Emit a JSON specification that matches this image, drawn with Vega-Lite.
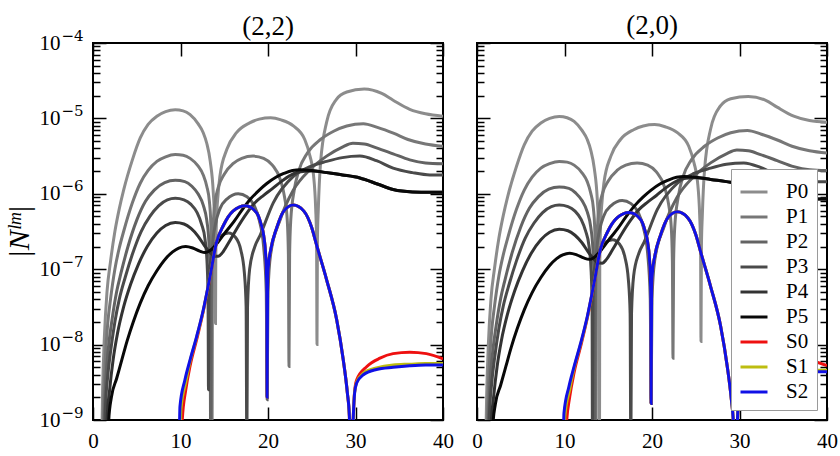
{
  "$schema": "https://vega.github.io/schema/vega-lite/v6.json",
  "background": "white",
  "padding": {"left": 3, "top": 11, "right": 13, "bottom": 3},
  "bounds": "flush",
  "spacing": 34,
  "config": {
    "view": {"stroke": "black", "strokeWidth": 2},
    "font": "Liberation Serif",
    "title": {"font": "Liberation Serif", "fontSize": 27, "fontWeight": "normal", "color": "black", "anchor": "middle"},
    "axis": {"domain": false, "offset": -13, "tickSize": 13, "tickColor": "black", "tickWidth": 1.5, "grid": false, "labelFont": "Liberation Serif", "labelFontSize": 21, "labelColor": "black", "labelOverlap": false, "labelFlush": false, "titleFont": "Liberation Serif", "titleColor": "black", "titleFontWeight": "normal"}
  },
  "datasets": {
    "n22": [
      {"s":"P0","x":0.9,"y":1e-10},{"s":"P0","x":1.1,"y":2.51e-9},{"s":"P0","x":1.3,"y":1.26e-8},{"s":"P0","x":1.6,"y":5.01e-8},{"s":"P0","x":2.0,"y":1.26e-7},{"s":"P0","x":2.5,"y":3.16e-7},{"s":"P0","x":3.0,"y":6.31e-7},{"s":"P0","x":3.5,"y":1.12e-6},{"s":"P0","x":4.5,"y":2.82e-6},{"s":"P0","x":5.4,"y":5.50e-6},{"s":"P0","x":6.3,"y":8.32e-6},{"s":"P0","x":7.3,"y":1.07e-5},{"s":"P0","x":8.3,"y":1.23e-5},{"s":"P0","x":9.4,"y":1.30e-5},{"s":"P0","x":10.3,"y":1.26e-5},{"s":"P0","x":11.1,"y":1.12e-5},{"s":"P0","x":12.0,"y":8.51e-6},{"s":"P0","x":12.6,"y":6.46e-6},{"s":"P0","x":13.0,"y":4.68e-6},{"s":"P0","x":13.4,"y":2.69e-6},{"s":"P0","x":13.75,"y":1.02e-6},{"s":"P0","x":13.9,"y":3.98e-7},{"s":"P0","x":13.97,"y":1.26e-7},{"s":"P0","x":14.0,"y":1.91e-8},{"s":"P0","x":14.03,"y":1.26e-7},{"s":"P0","x":14.1,"y":3.98e-7},{"s":"P0","x":14.3,"y":1.00e-6},{"s":"P0","x":14.5,"y":1.70e-6},{"s":"P0","x":15.3,"y":3.89e-6},{"s":"P0","x":16.4,"y":6.46e-6},{"s":"P0","x":17.9,"y":8.71e-6},{"s":"P0","x":19.0,"y":9.77e-6},{"s":"P0","x":20.3,"y":1.02e-5},{"s":"P0","x":21.5,"y":9.55e-6},{"s":"P0","x":22.9,"y":7.94e-6},{"s":"P0","x":24.2,"y":5.25e-6},{"s":"P0","x":24.8,"y":3.16e-6},{"s":"P0","x":25.2,"y":1.78e-6},{"s":"P0","x":25.45,"y":6.31e-7},{"s":"P0","x":25.55,"y":2.51e-7},{"s":"P0","x":25.6,"y":1.00e-8},{"s":"P0","x":25.65,"y":2.51e-7},{"s":"P0","x":25.75,"y":6.31e-7},{"s":"P0","x":26.0,"y":2.51e-6},{"s":"P0","x":26.7,"y":8.91e-6},{"s":"P0","x":27.8,"y":1.78e-5},{"s":"P0","x":29.0,"y":2.24e-5},{"s":"P0","x":31.0,"y":2.45e-5},{"s":"P0","x":33.0,"y":2.14e-5},{"s":"P0","x":34.3,"y":1.74e-5},{"s":"P0","x":36.2,"y":1.32e-5},{"s":"P0","x":38.0,"y":1.15e-5},{"s":"P0","x":40.0,"y":1.07e-5},
      {"s":"P1","x":1.0,"y":1e-10},{"s":"P1","x":1.2,"y":1.58e-9},{"s":"P1","x":1.4,"y":6.31e-9},{"s":"P1","x":1.7,"y":2.00e-8},{"s":"P1","x":2.0,"y":3.98e-8},{"s":"P1","x":2.5,"y":1.00e-7},{"s":"P1","x":3.0,"y":1.91e-7},{"s":"P1","x":3.5,"y":3.16e-7},{"s":"P1","x":4.5,"y":7.59e-7},{"s":"P1","x":5.4,"y":1.38e-6},{"s":"P1","x":6.3,"y":2.04e-6},{"s":"P1","x":7.3,"y":2.69e-6},{"s":"P1","x":8.3,"y":3.09e-6},{"s":"P1","x":9.4,"y":3.31e-6},{"s":"P1","x":10.3,"y":3.24e-6},{"s":"P1","x":11.1,"y":2.95e-6},{"s":"P1","x":12.0,"y":2.34e-6},{"s":"P1","x":12.6,"y":1.78e-6},{"s":"P1","x":13.0,"y":1.26e-6},{"s":"P1","x":13.3,"y":7.94e-7},{"s":"P1","x":13.45,"y":4.47e-7},{"s":"P1","x":13.55,"y":1.58e-7},{"s":"P1","x":13.6,"y":3.16e-10},{"s":"P1","x":13.65,"y":1.58e-7},{"s":"P1","x":13.75,"y":3.98e-7},{"s":"P1","x":13.9,"y":7.08e-7},{"s":"P1","x":14.3,"y":1.20e-6},{"s":"P1","x":15.0,"y":1.82e-6},{"s":"P1","x":16.0,"y":2.51e-6},{"s":"P1","x":17.0,"y":2.95e-6},{"s":"P1","x":18.3,"y":3.16e-6},{"s":"P1","x":19.5,"y":2.95e-6},{"s":"P1","x":20.5,"y":2.40e-6},{"s":"P1","x":21.4,"y":1.55e-6},{"s":"P1","x":21.9,"y":8.91e-7},{"s":"P1","x":22.2,"y":4.47e-7},{"s":"P1","x":22.33,"y":1.58e-7},{"s":"P1","x":22.4,"y":5.13e-9},{"s":"P1","x":22.47,"y":1.58e-7},{"s":"P1","x":22.6,"y":4.47e-7},{"s":"P1","x":23.0,"y":1.12e-6},{"s":"P1","x":23.5,"y":2.00e-6},{"s":"P1","x":24.5,"y":3.47e-6},{"s":"P1","x":26.0,"y":5.25e-6},{"s":"P1","x":27.5,"y":6.76e-6},{"s":"P1","x":29.0,"y":7.94e-6},{"s":"P1","x":30.9,"y":8.51e-6},{"s":"P1","x":32.5,"y":7.59e-6},{"s":"P1","x":34.4,"y":6.31e-6},{"s":"P1","x":36.0,"y":5.25e-6},{"s":"P1","x":38.0,"y":4.57e-6},{"s":"P1","x":40.0,"y":4.27e-6},
      {"s":"P2","x":1.1,"y":1e-10},{"s":"P2","x":1.3,"y":1.26e-9},{"s":"P2","x":1.5,"y":3.98e-9},{"s":"P2","x":1.8,"y":1.00e-8},{"s":"P2","x":2.2,"y":2.24e-8},{"s":"P2","x":2.7,"y":5.01e-8},{"s":"P2","x":3.2,"y":8.91e-8},{"s":"P2","x":4.0,"y":2.00e-7},{"s":"P2","x":5.0,"y":4.47e-7},{"s":"P2","x":6.0,"y":7.94e-7},{"s":"P2","x":7.0,"y":1.12e-6},{"s":"P2","x":8.2,"y":1.41e-6},{"s":"P2","x":9.4,"y":1.51e-6},{"s":"P2","x":10.5,"y":1.45e-6},{"s":"P2","x":11.3,"y":1.26e-6},{"s":"P2","x":12.0,"y":1.00e-6},{"s":"P2","x":12.6,"y":7.08e-7},{"s":"P2","x":13.0,"y":4.47e-7},{"s":"P2","x":13.25,"y":2.24e-7},{"s":"P2","x":13.38,"y":7.94e-8},{"s":"P2","x":13.45,"y":3.16e-10},{"s":"P2","x":13.52,"y":7.94e-8},{"s":"P2","x":13.65,"y":2.00e-7},{"s":"P2","x":14.0,"y":3.98e-7},{"s":"P2","x":14.5,"y":6.31e-7},{"s":"P2","x":15.3,"y":8.51e-7},{"s":"P2","x":16.6,"y":1.00e-6},{"s":"P2","x":17.6,"y":9.12e-7},{"s":"P2","x":18.4,"y":7.08e-7},{"s":"P2","x":19.0,"y":4.47e-7},{"s":"P2","x":19.5,"y":2.00e-7},{"s":"P2","x":19.8,"y":5.01e-8},{"s":"P2","x":19.9,"y":1.86e-9},{"s":"P2","x":20.0,"y":5.01e-8},{"s":"P2","x":20.3,"y":1.58e-7},{"s":"P2","x":21.4,"y":4.57e-7},{"s":"P2","x":22.9,"y":1.12e-6},{"s":"P2","x":24.8,"y":2.09e-6},{"s":"P2","x":26.7,"y":3.16e-6},{"s":"P2","x":28.5,"y":4.17e-6},{"s":"P2","x":29.7,"y":4.68e-6},{"s":"P2","x":31.0,"y":4.57e-6},{"s":"P2","x":32.4,"y":4.07e-6},{"s":"P2","x":34.3,"y":3.39e-6},{"s":"P2","x":36.2,"y":2.82e-6},{"s":"P2","x":38.0,"y":2.57e-6},{"s":"P2","x":40.0,"y":2.51e-6},
      {"s":"P3","x":1.2,"y":1e-10},{"s":"P3","x":1.4,"y":1.26e-9},{"s":"P3","x":1.7,"y":3.98e-9},{"s":"P3","x":2.0,"y":7.94e-9},{"s":"P3","x":2.5,"y":2.00e-8},{"s":"P3","x":3.0,"y":3.98e-8},{"s":"P3","x":3.7,"y":7.94e-8},{"s":"P3","x":4.5,"y":1.58e-7},{"s":"P3","x":5.5,"y":3.16e-7},{"s":"P3","x":6.5,"y":5.01e-7},{"s":"P3","x":7.5,"y":6.92e-7},{"s":"P3","x":8.5,"y":8.32e-7},{"s":"P3","x":9.4,"y":8.71e-7},{"s":"P3","x":10.4,"y":8.32e-7},{"s":"P3","x":11.2,"y":7.24e-7},{"s":"P3","x":11.9,"y":5.62e-7},{"s":"P3","x":12.4,"y":3.98e-7},{"s":"P3","x":12.8,"y":2.51e-7},{"s":"P3","x":13.05,"y":1.12e-7},{"s":"P3","x":13.15,"y":3.98e-8},{"s":"P3","x":13.2,"y":2.51e-9},{"s":"P3","x":13.25,"y":3.98e-8},{"s":"P3","x":13.35,"y":1.00e-7},{"s":"P3","x":13.6,"y":1.58e-7},{"s":"P3","x":14.0,"y":2.19e-7},{"s":"P3","x":14.6,"y":2.75e-7},{"s":"P3","x":15.5,"y":3.02e-7},{"s":"P3","x":16.3,"y":2.63e-7},{"s":"P3","x":16.9,"y":1.78e-7},{"s":"P3","x":17.3,"y":8.91e-8},{"s":"P3","x":17.5,"y":3.16e-8},{"s":"P3","x":17.58,"y":3.16e-10},{"s":"P3","x":17.66,"y":3.16e-8},{"s":"P3","x":17.9,"y":1.00e-7},{"s":"P3","x":18.5,"y":2.00e-7},{"s":"P3","x":19.1,"y":2.82e-7},{"s":"P3","x":20.6,"y":7.59e-7},{"s":"P3","x":22.9,"y":1.70e-6},{"s":"P3","x":24.8,"y":2.29e-6},{"s":"P3","x":26.7,"y":2.69e-6},{"s":"P3","x":28.5,"y":3.02e-6},{"s":"P3","x":30.5,"y":3.16e-6},{"s":"P3","x":32.4,"y":2.75e-6},{"s":"P3","x":34.3,"y":2.19e-6},{"s":"P3","x":36.5,"y":1.91e-6},{"s":"P3","x":38.5,"y":1.78e-6},{"s":"P3","x":40.0,"y":1.78e-6},
      {"s":"P4","x":1.35,"y":1e-10},{"s":"P4","x":1.6,"y":1.00e-9},{"s":"P4","x":1.9,"y":2.51e-9},{"s":"P4","x":2.3,"y":6.31e-9},{"s":"P4","x":2.8,"y":1.41e-8},{"s":"P4","x":3.5,"y":3.16e-8},{"s":"P4","x":4.3,"y":6.31e-8},{"s":"P4","x":5.2,"y":1.17e-7},{"s":"P4","x":6.2,"y":2.00e-7},{"s":"P4","x":7.3,"y":3.02e-7},{"s":"P4","x":8.3,"y":3.80e-7},{"s":"P4","x":9.4,"y":4.17e-7},{"s":"P4","x":10.4,"y":3.98e-7},{"s":"P4","x":11.2,"y":3.47e-7},{"s":"P4","x":12.0,"y":2.75e-7},{"s":"P4","x":12.7,"y":2.09e-7},{"s":"P4","x":13.3,"y":1.70e-7},{"s":"P4","x":13.8,"y":1.51e-7},{"s":"P4","x":14.3,"y":1.48e-7},{"s":"P4","x":14.8,"y":1.66e-7},{"s":"P4","x":15.5,"y":2.24e-7},{"s":"P4","x":16.5,"y":3.55e-7},{"s":"P4","x":17.5,"y":5.37e-7},{"s":"P4","x":18.5,"y":7.59e-7},{"s":"P4","x":19.5,"y":9.55e-7},{"s":"P4","x":20.5,"y":1.17e-6},{"s":"P4","x":21.5,"y":1.45e-6},{"s":"P4","x":22.5,"y":1.74e-6},{"s":"P4","x":23.5,"y":1.95e-6},{"s":"P4","x":25.0,"y":2.00e-6},{"s":"P4","x":26.7,"y":1.91e-6},{"s":"P4","x":28.5,"y":1.78e-6},{"s":"P4","x":30.5,"y":1.62e-6},{"s":"P4","x":32.5,"y":1.35e-6},{"s":"P4","x":34.3,"y":1.14e-6},{"s":"P4","x":36.5,"y":1.06e-6},{"s":"P4","x":38.5,"y":1.05e-6},{"s":"P4","x":40.0,"y":1.05e-6},
      {"s":"P5","x":1.6,"y":1e-10},{"s":"P5","x":1.8,"y":1.00e-9},{"s":"P5","x":2.1,"y":2.00e-9},{"s":"P5","x":2.7,"y":3.55e-9},{"s":"P5","x":3.3,"y":6.31e-9},{"s":"P5","x":3.9,"y":1.12e-8},{"s":"P5","x":4.6,"y":2.00e-8},{"s":"P5","x":5.4,"y":3.55e-8},{"s":"P5","x":6.3,"y":6.03e-8},{"s":"P5","x":7.3,"y":9.55e-8},{"s":"P5","x":8.3,"y":1.38e-7},{"s":"P5","x":9.1,"y":1.70e-7},{"s":"P5","x":9.8,"y":1.91e-7},{"s":"P5","x":10.6,"y":2.00e-7},{"s":"P5","x":11.4,"y":1.91e-7},{"s":"P5","x":12.2,"y":1.74e-7},{"s":"P5","x":12.8,"y":1.66e-7},{"s":"P5","x":13.3,"y":1.74e-7},{"s":"P5","x":13.8,"y":1.95e-7},{"s":"P5","x":14.3,"y":2.29e-7},{"s":"P5","x":15.2,"y":3.16e-7},{"s":"P5","x":16.1,"y":4.27e-7},{"s":"P5","x":17.0,"y":6.03e-7},{"s":"P5","x":18.0,"y":8.51e-7},{"s":"P5","x":19.0,"y":1.12e-6},{"s":"P5","x":19.9,"y":1.38e-6},{"s":"P5","x":20.9,"y":1.66e-6},{"s":"P5","x":21.8,"y":1.86e-6},{"s":"P5","x":22.8,"y":2.04e-6},{"s":"P5","x":23.7,"y":2.09e-6},{"s":"P5","x":25.0,"y":2.04e-6},{"s":"P5","x":26.7,"y":1.91e-6},{"s":"P5","x":28.5,"y":1.78e-6},{"s":"P5","x":30.5,"y":1.62e-6},{"s":"P5","x":32.5,"y":1.35e-6},{"s":"P5","x":34.3,"y":1.14e-6},{"s":"P5","x":36.5,"y":1.06e-6},{"s":"P5","x":38.5,"y":1.05e-6},{"s":"P5","x":40.0,"y":1.05e-6},
      {"s":"S0","x":10.05,"y":1e-10},{"s":"S0","x":10.2,"y":1.00e-9},{"s":"S0","x":10.6,"y":2.51e-9},{"s":"S0","x":11.1,"y":5.25e-9},{"s":"S0","x":11.85,"y":1.17e-8},{"s":"S0","x":12.6,"y":2.75e-8},{"s":"S0","x":13.4,"y":8.13e-8},{"s":"S0","x":14.1,"y":2.24e-7},{"s":"S0","x":14.9,"y":3.80e-7},{"s":"S0","x":16.0,"y":5.89e-7},{"s":"S0","x":17.4,"y":6.92e-7},{"s":"S0","x":18.7,"y":5.62e-7},{"s":"S0","x":19.2,"y":3.98e-7},{"s":"S0","x":19.5,"y":2.82e-7},{"s":"S0","x":19.75,"y":1.41e-7},{"s":"S0","x":19.85,"y":6.31e-8},{"s":"S0","x":19.9,"y":2.00e-9},{"s":"S0","x":19.95,"y":6.31e-8},{"s":"S0","x":20.05,"y":1.12e-7},{"s":"S0","x":20.3,"y":1.78e-7},{"s":"S0","x":21.0,"y":3.55e-7},{"s":"S0","x":21.8,"y":5.89e-7},{"s":"S0","x":22.9,"y":7.08e-7},{"s":"S0","x":24.1,"y":5.89e-7},{"s":"S0","x":25.0,"y":3.55e-7},{"s":"S0","x":25.6,"y":2.00e-7},{"s":"S0","x":26.7,"y":7.24e-8},{"s":"S0","x":27.85,"y":2.14e-8},{"s":"S0","x":28.6,"y":6.31e-9},{"s":"S0","x":29.07,"y":2.29e-9},{"s":"S0","x":29.3,"y":1.12e-9},{"s":"S0","x":29.5,"y":1e-10},{"s":"S0","x":29.75,"y":1.12e-9},{"s":"S0","x":29.9,"y":2.40e-9},{"s":"S0","x":30.13,"y":3.39e-9},{"s":"S0","x":31.3,"y":5.13e-9},{"s":"S0","x":32.8,"y":6.61e-9},{"s":"S0","x":34.3,"y":7.59e-9},{"s":"S0","x":36.2,"y":7.94e-9},{"s":"S0","x":38.1,"y":7.59e-9},{"s":"S0","x":40.0,"y":6.46e-9},
      {"s":"S1","x":9.9,"y":1e-10},{"s":"S1","x":10.05,"y":1.41e-9},{"s":"S1","x":10.6,"y":3.16e-9},{"s":"S1","x":11.1,"y":6.03e-9},{"s":"S1","x":11.85,"y":1.26e-8},{"s":"S1","x":12.6,"y":2.82e-8},{"s":"S1","x":13.4,"y":8.32e-8},{"s":"S1","x":14.1,"y":2.24e-7},{"s":"S1","x":14.9,"y":3.80e-7},{"s":"S1","x":16.0,"y":5.89e-7},{"s":"S1","x":17.4,"y":6.92e-7},{"s":"S1","x":18.7,"y":5.62e-7},{"s":"S1","x":19.2,"y":3.98e-7},{"s":"S1","x":19.5,"y":2.82e-7},{"s":"S1","x":19.75,"y":1.41e-7},{"s":"S1","x":19.85,"y":6.31e-8},{"s":"S1","x":19.9,"y":2.00e-9},{"s":"S1","x":19.95,"y":6.31e-8},{"s":"S1","x":20.05,"y":1.12e-7},{"s":"S1","x":20.3,"y":1.78e-7},{"s":"S1","x":21.0,"y":3.55e-7},{"s":"S1","x":21.8,"y":5.89e-7},{"s":"S1","x":22.9,"y":7.08e-7},{"s":"S1","x":24.1,"y":5.89e-7},{"s":"S1","x":25.0,"y":3.55e-7},{"s":"S1","x":25.6,"y":2.00e-7},{"s":"S1","x":26.7,"y":7.24e-8},{"s":"S1","x":27.85,"y":2.14e-8},{"s":"S1","x":28.6,"y":6.31e-9},{"s":"S1","x":29.07,"y":2.29e-9},{"s":"S1","x":29.3,"y":1.12e-9},{"s":"S1","x":29.5,"y":1e-10},{"s":"S1","x":29.75,"y":1.12e-9},{"s":"S1","x":29.9,"y":2.34e-9},{"s":"S1","x":30.13,"y":3.16e-9},{"s":"S1","x":30.9,"y":4.17e-9},{"s":"S1","x":32.4,"y":4.90e-9},{"s":"S1","x":34.3,"y":5.37e-9},{"s":"S1","x":36.2,"y":5.50e-9},{"s":"S1","x":38.0,"y":5.62e-9},{"s":"S1","x":40.0,"y":5.62e-9},
      {"s":"S2","x":9.8,"y":1e-10},{"s":"S2","x":9.94,"y":1.51e-9},{"s":"S2","x":10.5,"y":3.39e-9},{"s":"S2","x":11.1,"y":6.31e-9},{"s":"S2","x":11.85,"y":1.29e-8},{"s":"S2","x":12.6,"y":2.88e-8},{"s":"S2","x":13.4,"y":8.32e-8},{"s":"S2","x":14.1,"y":2.24e-7},{"s":"S2","x":14.9,"y":3.80e-7},{"s":"S2","x":16.0,"y":5.89e-7},{"s":"S2","x":17.4,"y":6.92e-7},{"s":"S2","x":18.7,"y":5.62e-7},{"s":"S2","x":19.2,"y":3.98e-7},{"s":"S2","x":19.5,"y":2.82e-7},{"s":"S2","x":19.75,"y":1.41e-7},{"s":"S2","x":19.85,"y":6.31e-8},{"s":"S2","x":19.9,"y":2.00e-9},{"s":"S2","x":19.95,"y":6.31e-8},{"s":"S2","x":20.05,"y":1.12e-7},{"s":"S2","x":20.3,"y":1.78e-7},{"s":"S2","x":21.0,"y":3.55e-7},{"s":"S2","x":21.8,"y":5.89e-7},{"s":"S2","x":22.9,"y":7.08e-7},{"s":"S2","x":24.1,"y":5.89e-7},{"s":"S2","x":25.0,"y":3.55e-7},{"s":"S2","x":25.6,"y":2.00e-7},{"s":"S2","x":26.7,"y":7.24e-8},{"s":"S2","x":27.85,"y":2.14e-8},{"s":"S2","x":28.6,"y":6.31e-9},{"s":"S2","x":29.07,"y":2.29e-9},{"s":"S2","x":29.3,"y":1.12e-9},{"s":"S2","x":29.5,"y":1e-10},{"s":"S2","x":29.75,"y":1.12e-9},{"s":"S2","x":29.9,"y":2.29e-9},{"s":"S2","x":30.13,"y":3.09e-9},{"s":"S2","x":30.9,"y":3.98e-9},{"s":"S2","x":32.4,"y":4.68e-9},{"s":"S2","x":34.3,"y":5.01e-9},{"s":"S2","x":36.2,"y":5.25e-9},{"s":"S2","x":38.0,"y":5.37e-9},{"s":"S2","x":40.0,"y":5.37e-9}
    ],
    "n20": [
      {"s":"P0","x":0.9,"y":1e-10},{"s":"P0","x":1.1,"y":2.04e-9},{"s":"P0","x":1.3,"y":1.02e-8},{"s":"P0","x":1.6,"y":4.07e-8},{"s":"P0","x":2.0,"y":1.02e-7},{"s":"P0","x":2.5,"y":2.57e-7},{"s":"P0","x":3.0,"y":5.13e-7},{"s":"P0","x":3.5,"y":9.11e-7},{"s":"P0","x":4.5,"y":2.29e-6},{"s":"P0","x":5.4,"y":4.47e-6},{"s":"P0","x":6.3,"y":6.76e-6},{"s":"P0","x":7.3,"y":8.70e-6},{"s":"P0","x":8.3,"y":1.00e-5},{"s":"P0","x":9.4,"y":1.06e-5},{"s":"P0","x":10.3,"y":1.02e-5},{"s":"P0","x":11.1,"y":9.11e-6},{"s":"P0","x":12.0,"y":6.92e-6},{"s":"P0","x":12.6,"y":5.25e-6},{"s":"P0","x":13.0,"y":3.80e-6},{"s":"P0","x":13.4,"y":2.19e-6},{"s":"P0","x":13.75,"y":8.29e-7},{"s":"P0","x":13.9,"y":3.24e-7},{"s":"P0","x":13.97,"y":1.02e-7},{"s":"P0","x":14.0,"y":3.16e-10},{"s":"P0","x":14.03,"y":1.02e-7},{"s":"P0","x":14.1,"y":3.24e-7},{"s":"P0","x":14.3,"y":8.13e-7},{"s":"P0","x":14.5,"y":1.38e-6},{"s":"P0","x":15.3,"y":3.16e-6},{"s":"P0","x":16.4,"y":5.25e-6},{"s":"P0","x":17.9,"y":7.08e-6},{"s":"P0","x":19.0,"y":7.94e-6},{"s":"P0","x":20.3,"y":8.29e-6},{"s":"P0","x":21.5,"y":7.76e-6},{"s":"P0","x":22.9,"y":6.46e-6},{"s":"P0","x":24.2,"y":4.27e-6},{"s":"P0","x":24.8,"y":2.57e-6},{"s":"P0","x":25.2,"y":1.45e-6},{"s":"P0","x":25.45,"y":5.13e-7},{"s":"P0","x":25.55,"y":2.04e-7},{"s":"P0","x":25.6,"y":1.10e-8},{"s":"P0","x":25.65,"y":2.04e-7},{"s":"P0","x":25.75,"y":5.13e-7},{"s":"P0","x":26.0,"y":2.04e-6},{"s":"P0","x":26.7,"y":7.24e-6},{"s":"P0","x":27.8,"y":1.45e-5},{"s":"P0","x":29.0,"y":1.82e-5},{"s":"P0","x":31.0,"y":1.95e-5},{"s":"P0","x":33.0,"y":1.74e-5},{"s":"P0","x":34.3,"y":1.41e-5},{"s":"P0","x":36.2,"y":1.07e-5},{"s":"P0","x":38.0,"y":9.35e-6},{"s":"P0","x":40.0,"y":8.91e-6},
      {"s":"P1","x":1.0,"y":1e-10},{"s":"P1","x":1.2,"y":1.28e-9},{"s":"P1","x":1.4,"y":5.13e-9},{"s":"P1","x":1.7,"y":1.63e-8},{"s":"P1","x":2.0,"y":3.24e-8},{"s":"P1","x":2.5,"y":8.13e-8},{"s":"P1","x":3.0,"y":1.55e-7},{"s":"P1","x":3.5,"y":2.57e-7},{"s":"P1","x":4.5,"y":6.17e-7},{"s":"P1","x":5.4,"y":1.12e-6},{"s":"P1","x":6.3,"y":1.66e-6},{"s":"P1","x":7.3,"y":2.19e-6},{"s":"P1","x":8.3,"y":2.51e-6},{"s":"P1","x":9.4,"y":2.69e-6},{"s":"P1","x":10.3,"y":2.63e-6},{"s":"P1","x":11.1,"y":2.40e-6},{"s":"P1","x":12.0,"y":1.90e-6},{"s":"P1","x":12.6,"y":1.45e-6},{"s":"P1","x":13.0,"y":1.02e-6},{"s":"P1","x":13.3,"y":6.46e-7},{"s":"P1","x":13.45,"y":3.63e-7},{"s":"P1","x":13.55,"y":1.28e-7},{"s":"P1","x":13.6,"y":3.16e-10},{"s":"P1","x":13.65,"y":1.28e-7},{"s":"P1","x":13.75,"y":3.24e-7},{"s":"P1","x":13.9,"y":5.76e-7},{"s":"P1","x":14.3,"y":9.76e-7},{"s":"P1","x":15.0,"y":1.48e-6},{"s":"P1","x":16.0,"y":2.04e-6},{"s":"P1","x":17.0,"y":2.40e-6},{"s":"P1","x":18.3,"y":2.57e-6},{"s":"P1","x":19.5,"y":2.40e-6},{"s":"P1","x":20.5,"y":1.95e-6},{"s":"P1","x":21.4,"y":1.26e-6},{"s":"P1","x":21.9,"y":7.24e-7},{"s":"P1","x":22.2,"y":3.63e-7},{"s":"P1","x":22.33,"y":1.28e-7},{"s":"P1","x":22.4,"y":6.61e-9},{"s":"P1","x":22.47,"y":1.28e-7},{"s":"P1","x":22.6,"y":3.63e-7},{"s":"P1","x":23.0,"y":9.11e-7},{"s":"P1","x":23.5,"y":1.63e-6},{"s":"P1","x":24.5,"y":2.82e-6},{"s":"P1","x":26.0,"y":4.27e-6},{"s":"P1","x":27.5,"y":5.50e-6},{"s":"P1","x":29.0,"y":6.46e-6},{"s":"P1","x":30.9,"y":6.92e-6},{"s":"P1","x":32.5,"y":6.17e-6},{"s":"P1","x":34.4,"y":5.13e-6},{"s":"P1","x":36.0,"y":4.27e-6},{"s":"P1","x":38.0,"y":3.72e-6},{"s":"P1","x":40.0,"y":3.47e-6},
      {"s":"P2","x":1.1,"y":1e-10},{"s":"P2","x":1.3,"y":1.02e-9},{"s":"P2","x":1.5,"y":3.24e-9},{"s":"P2","x":1.8,"y":8.13e-9},{"s":"P2","x":2.2,"y":1.82e-8},{"s":"P2","x":2.7,"y":4.07e-8},{"s":"P2","x":3.2,"y":7.24e-8},{"s":"P2","x":4.0,"y":1.63e-7},{"s":"P2","x":5.0,"y":3.63e-7},{"s":"P2","x":6.0,"y":6.46e-7},{"s":"P2","x":7.0,"y":9.11e-7},{"s":"P2","x":8.2,"y":1.15e-6},{"s":"P2","x":9.4,"y":1.23e-6},{"s":"P2","x":10.5,"y":1.18e-6},{"s":"P2","x":11.3,"y":1.02e-6},{"s":"P2","x":12.0,"y":8.13e-7},{"s":"P2","x":12.6,"y":5.76e-7},{"s":"P2","x":13.0,"y":3.63e-7},{"s":"P2","x":13.25,"y":1.82e-7},{"s":"P2","x":13.38,"y":6.46e-8},{"s":"P2","x":13.45,"y":3.16e-10},{"s":"P2","x":13.52,"y":6.46e-8},{"s":"P2","x":13.65,"y":1.63e-7},{"s":"P2","x":14.0,"y":3.24e-7},{"s":"P2","x":14.5,"y":5.13e-7},{"s":"P2","x":15.3,"y":6.92e-7},{"s":"P2","x":16.6,"y":8.13e-7},{"s":"P2","x":17.6,"y":7.41e-7},{"s":"P2","x":18.4,"y":5.76e-7},{"s":"P2","x":19.0,"y":3.63e-7},{"s":"P2","x":19.5,"y":1.63e-7},{"s":"P2","x":19.8,"y":4.07e-8},{"s":"P2","x":19.9,"y":1.66e-9},{"s":"P2","x":20.0,"y":4.07e-8},{"s":"P2","x":20.3,"y":1.28e-7},{"s":"P2","x":21.4,"y":3.72e-7},{"s":"P2","x":22.9,"y":9.11e-7},{"s":"P2","x":24.8,"y":1.70e-6},{"s":"P2","x":26.7,"y":2.57e-6},{"s":"P2","x":28.5,"y":3.39e-6},{"s":"P2","x":29.7,"y":3.80e-6},{"s":"P2","x":31.0,"y":3.72e-6},{"s":"P2","x":32.4,"y":3.31e-6},{"s":"P2","x":34.3,"y":2.76e-6},{"s":"P2","x":36.2,"y":2.29e-6},{"s":"P2","x":38.0,"y":2.09e-6},{"s":"P2","x":40.0,"y":2.04e-6},
      {"s":"P3","x":1.2,"y":1e-10},{"s":"P3","x":1.4,"y":1.02e-9},{"s":"P3","x":1.7,"y":3.24e-9},{"s":"P3","x":2.0,"y":6.46e-9},{"s":"P3","x":2.5,"y":1.63e-8},{"s":"P3","x":3.0,"y":3.24e-8},{"s":"P3","x":3.7,"y":6.46e-8},{"s":"P3","x":4.5,"y":1.28e-7},{"s":"P3","x":5.5,"y":2.57e-7},{"s":"P3","x":6.5,"y":4.07e-7},{"s":"P3","x":7.5,"y":5.63e-7},{"s":"P3","x":8.5,"y":6.76e-7},{"s":"P3","x":9.4,"y":7.08e-7},{"s":"P3","x":10.4,"y":6.76e-7},{"s":"P3","x":11.2,"y":5.89e-7},{"s":"P3","x":11.9,"y":4.57e-7},{"s":"P3","x":12.4,"y":3.24e-7},{"s":"P3","x":12.8,"y":2.04e-7},{"s":"P3","x":13.05,"y":9.11e-8},{"s":"P3","x":13.15,"y":3.24e-8},{"s":"P3","x":13.2,"y":3.16e-10},{"s":"P3","x":13.25,"y":3.24e-8},{"s":"P3","x":13.35,"y":8.13e-8},{"s":"P3","x":13.6,"y":1.28e-7},{"s":"P3","x":14.0,"y":1.78e-7},{"s":"P3","x":14.6,"y":2.24e-7},{"s":"P3","x":15.5,"y":2.46e-7},{"s":"P3","x":16.3,"y":2.14e-7},{"s":"P3","x":16.9,"y":1.45e-7},{"s":"P3","x":17.3,"y":7.24e-8},{"s":"P3","x":17.5,"y":2.57e-8},{"s":"P3","x":17.58,"y":3.16e-10},{"s":"P3","x":17.66,"y":2.57e-8},{"s":"P3","x":17.9,"y":8.13e-8},{"s":"P3","x":18.5,"y":1.63e-7},{"s":"P3","x":19.1,"y":2.29e-7},{"s":"P3","x":20.6,"y":6.17e-7},{"s":"P3","x":22.9,"y":1.38e-6},{"s":"P3","x":24.8,"y":1.86e-6},{"s":"P3","x":26.7,"y":2.19e-6},{"s":"P3","x":28.5,"y":2.46e-6},{"s":"P3","x":30.5,"y":2.57e-6},{"s":"P3","x":32.4,"y":2.24e-6},{"s":"P3","x":34.3,"y":1.78e-6},{"s":"P3","x":36.5,"y":1.55e-6},{"s":"P3","x":38.5,"y":1.45e-6},{"s":"P3","x":40.0,"y":1.45e-6},
      {"s":"P4","x":1.35,"y":1e-10},{"s":"P4","x":1.6,"y":8.13e-10},{"s":"P4","x":1.9,"y":2.04e-9},{"s":"P4","x":2.3,"y":5.13e-9},{"s":"P4","x":2.8,"y":1.15e-8},{"s":"P4","x":3.5,"y":2.57e-8},{"s":"P4","x":4.3,"y":5.13e-8},{"s":"P4","x":5.2,"y":9.51e-8},{"s":"P4","x":6.2,"y":1.63e-7},{"s":"P4","x":7.3,"y":2.46e-7},{"s":"P4","x":8.3,"y":3.09e-7},{"s":"P4","x":9.4,"y":3.39e-7},{"s":"P4","x":10.4,"y":3.24e-7},{"s":"P4","x":11.2,"y":2.82e-7},{"s":"P4","x":12.0,"y":2.24e-7},{"s":"P4","x":12.7,"y":1.70e-7},{"s":"P4","x":13.3,"y":1.38e-7},{"s":"P4","x":13.8,"y":1.23e-7},{"s":"P4","x":14.3,"y":1.20e-7},{"s":"P4","x":14.8,"y":1.35e-7},{"s":"P4","x":15.5,"y":1.82e-7},{"s":"P4","x":16.5,"y":2.89e-7},{"s":"P4","x":17.5,"y":4.37e-7},{"s":"P4","x":18.5,"y":6.17e-7},{"s":"P4","x":19.5,"y":7.76e-7},{"s":"P4","x":20.5,"y":9.51e-7},{"s":"P4","x":21.5,"y":1.18e-6},{"s":"P4","x":22.5,"y":1.41e-6},{"s":"P4","x":23.5,"y":1.59e-6},{"s":"P4","x":25.0,"y":1.63e-6},{"s":"P4","x":26.7,"y":1.55e-6},{"s":"P4","x":28.5,"y":1.45e-6},{"s":"P4","x":30.5,"y":1.32e-6},{"s":"P4","x":32.5,"y":1.10e-6},{"s":"P4","x":34.3,"y":9.27e-7},{"s":"P4","x":36.5,"y":8.62e-7},{"s":"P4","x":38.5,"y":8.54e-7},{"s":"P4","x":40.0,"y":8.54e-7},
      {"s":"P5","x":1.6,"y":1e-10},{"s":"P5","x":1.8,"y":8.13e-10},{"s":"P5","x":2.1,"y":1.63e-9},{"s":"P5","x":2.7,"y":2.89e-9},{"s":"P5","x":3.3,"y":5.13e-9},{"s":"P5","x":3.9,"y":9.11e-9},{"s":"P5","x":4.6,"y":1.63e-8},{"s":"P5","x":5.4,"y":2.89e-8},{"s":"P5","x":6.3,"y":4.90e-8},{"s":"P5","x":7.3,"y":7.76e-8},{"s":"P5","x":8.3,"y":1.12e-7},{"s":"P5","x":9.1,"y":1.38e-7},{"s":"P5","x":9.8,"y":1.55e-7},{"s":"P5","x":10.6,"y":1.63e-7},{"s":"P5","x":11.4,"y":1.55e-7},{"s":"P5","x":12.2,"y":1.41e-7},{"s":"P5","x":12.8,"y":1.35e-7},{"s":"P5","x":13.3,"y":1.41e-7},{"s":"P5","x":13.8,"y":1.59e-7},{"s":"P5","x":14.3,"y":1.86e-7},{"s":"P5","x":15.2,"y":2.57e-7},{"s":"P5","x":16.1,"y":3.47e-7},{"s":"P5","x":17.0,"y":4.90e-7},{"s":"P5","x":18.0,"y":6.92e-7},{"s":"P5","x":19.0,"y":9.11e-7},{"s":"P5","x":19.9,"y":1.12e-6},{"s":"P5","x":20.9,"y":1.35e-6},{"s":"P5","x":21.8,"y":1.51e-6},{"s":"P5","x":22.8,"y":1.66e-6},{"s":"P5","x":23.7,"y":1.70e-6},{"s":"P5","x":25.0,"y":1.66e-6},{"s":"P5","x":26.7,"y":1.55e-6},{"s":"P5","x":28.5,"y":1.45e-6},{"s":"P5","x":30.5,"y":1.32e-6},{"s":"P5","x":32.5,"y":1.10e-6},{"s":"P5","x":34.3,"y":9.27e-7},{"s":"P5","x":36.5,"y":8.62e-7},{"s":"P5","x":38.5,"y":8.54e-7},{"s":"P5","x":40.0,"y":8.54e-7},
      {"s":"S0","x":10.05,"y":1e-10},{"s":"S0","x":10.2,"y":8.13e-10},{"s":"S0","x":10.6,"y":2.04e-9},{"s":"S0","x":11.1,"y":4.27e-9},{"s":"S0","x":11.85,"y":9.51e-9},{"s":"S0","x":12.6,"y":2.24e-8},{"s":"S0","x":13.4,"y":6.61e-8},{"s":"S0","x":14.1,"y":1.82e-7},{"s":"S0","x":14.9,"y":3.09e-7},{"s":"S0","x":16.0,"y":4.79e-7},{"s":"S0","x":17.4,"y":5.63e-7},{"s":"S0","x":18.7,"y":4.57e-7},{"s":"S0","x":19.2,"y":3.24e-7},{"s":"S0","x":19.5,"y":2.29e-7},{"s":"S0","x":19.75,"y":1.15e-7},{"s":"S0","x":19.85,"y":5.13e-8},{"s":"S0","x":19.9,"y":1.66e-9},{"s":"S0","x":19.95,"y":5.13e-8},{"s":"S0","x":20.05,"y":9.11e-8},{"s":"S0","x":20.3,"y":1.45e-7},{"s":"S0","x":21.0,"y":2.89e-7},{"s":"S0","x":21.8,"y":4.79e-7},{"s":"S0","x":22.9,"y":5.76e-7},{"s":"S0","x":24.1,"y":4.79e-7},{"s":"S0","x":25.0,"y":2.89e-7},{"s":"S0","x":25.6,"y":1.63e-7},{"s":"S0","x":26.7,"y":5.89e-8},{"s":"S0","x":27.85,"y":1.74e-8},{"s":"S0","x":28.6,"y":5.13e-9},{"s":"S0","x":29.07,"y":1.86e-9},{"s":"S0","x":29.3,"y":9.11e-10},{"s":"S0","x":29.5,"y":1e-10},{"s":"S0","x":29.75,"y":9.11e-10},{"s":"S0","x":29.9,"y":1.95e-9},{"s":"S0","x":30.13,"y":2.76e-9},{"s":"S0","x":31.3,"y":4.17e-9},{"s":"S0","x":32.8,"y":5.37e-9},{"s":"S0","x":34.3,"y":6.17e-9},{"s":"S0","x":36.2,"y":6.46e-9},{"s":"S0","x":38.1,"y":6.17e-9},{"s":"S0","x":40.0,"y":5.25e-9},
      {"s":"S1","x":9.9,"y":1e-10},{"s":"S1","x":10.05,"y":1.15e-9},{"s":"S1","x":10.6,"y":2.57e-9},{"s":"S1","x":11.1,"y":4.90e-9},{"s":"S1","x":11.85,"y":1.02e-8},{"s":"S1","x":12.6,"y":2.29e-8},{"s":"S1","x":13.4,"y":6.76e-8},{"s":"S1","x":14.1,"y":1.82e-7},{"s":"S1","x":14.9,"y":3.09e-7},{"s":"S1","x":16.0,"y":4.79e-7},{"s":"S1","x":17.4,"y":5.63e-7},{"s":"S1","x":18.7,"y":4.57e-7},{"s":"S1","x":19.2,"y":3.24e-7},{"s":"S1","x":19.5,"y":2.29e-7},{"s":"S1","x":19.75,"y":1.15e-7},{"s":"S1","x":19.85,"y":5.13e-8},{"s":"S1","x":19.9,"y":1.66e-9},{"s":"S1","x":19.95,"y":5.13e-8},{"s":"S1","x":20.05,"y":9.11e-8},{"s":"S1","x":20.3,"y":1.45e-7},{"s":"S1","x":21.0,"y":2.89e-7},{"s":"S1","x":21.8,"y":4.79e-7},{"s":"S1","x":22.9,"y":5.76e-7},{"s":"S1","x":24.1,"y":4.79e-7},{"s":"S1","x":25.0,"y":2.89e-7},{"s":"S1","x":25.6,"y":1.63e-7},{"s":"S1","x":26.7,"y":5.89e-8},{"s":"S1","x":27.85,"y":1.74e-8},{"s":"S1","x":28.6,"y":5.13e-9},{"s":"S1","x":29.07,"y":1.86e-9},{"s":"S1","x":29.3,"y":9.11e-10},{"s":"S1","x":29.5,"y":1e-10},{"s":"S1","x":29.75,"y":9.11e-10},{"s":"S1","x":29.9,"y":1.90e-9},{"s":"S1","x":30.13,"y":2.57e-9},{"s":"S1","x":30.9,"y":3.39e-9},{"s":"S1","x":32.4,"y":3.98e-9},{"s":"S1","x":34.3,"y":4.37e-9},{"s":"S1","x":36.2,"y":4.47e-9},{"s":"S1","x":38.0,"y":4.57e-9},{"s":"S1","x":40.0,"y":4.57e-9},
      {"s":"S2","x":9.8,"y":1e-10},{"s":"S2","x":9.94,"y":1.23e-9},{"s":"S2","x":10.5,"y":2.76e-9},{"s":"S2","x":11.1,"y":5.13e-9},{"s":"S2","x":11.85,"y":1.05e-8},{"s":"S2","x":12.6,"y":2.34e-8},{"s":"S2","x":13.4,"y":6.76e-8},{"s":"S2","x":14.1,"y":1.82e-7},{"s":"S2","x":14.9,"y":3.09e-7},{"s":"S2","x":16.0,"y":4.79e-7},{"s":"S2","x":17.4,"y":5.63e-7},{"s":"S2","x":18.7,"y":4.57e-7},{"s":"S2","x":19.2,"y":3.24e-7},{"s":"S2","x":19.5,"y":2.29e-7},{"s":"S2","x":19.75,"y":1.15e-7},{"s":"S2","x":19.85,"y":5.13e-8},{"s":"S2","x":19.9,"y":1.66e-9},{"s":"S2","x":19.95,"y":5.13e-8},{"s":"S2","x":20.05,"y":9.11e-8},{"s":"S2","x":20.3,"y":1.45e-7},{"s":"S2","x":21.0,"y":2.89e-7},{"s":"S2","x":21.8,"y":4.79e-7},{"s":"S2","x":22.9,"y":5.76e-7},{"s":"S2","x":24.1,"y":4.79e-7},{"s":"S2","x":25.0,"y":2.89e-7},{"s":"S2","x":25.6,"y":1.63e-7},{"s":"S2","x":26.7,"y":5.89e-8},{"s":"S2","x":27.85,"y":1.74e-8},{"s":"S2","x":28.6,"y":5.13e-9},{"s":"S2","x":29.07,"y":1.86e-9},{"s":"S2","x":29.3,"y":9.11e-10},{"s":"S2","x":29.5,"y":1e-10},{"s":"S2","x":29.75,"y":9.11e-10},{"s":"S2","x":29.9,"y":1.86e-9},{"s":"S2","x":30.13,"y":2.51e-9},{"s":"S2","x":30.9,"y":3.24e-9},{"s":"S2","x":32.4,"y":3.80e-9},{"s":"S2","x":34.3,"y":4.07e-9},{"s":"S2","x":36.2,"y":4.27e-9},{"s":"S2","x":38.0,"y":4.37e-9},{"s":"S2","x":40.0,"y":4.37e-9}
    ]
  },
  "hconcat": [
    {
      "width": 350, "height": 377,
      "title": {"text": "(2,2)", "offset": -13},
      "data": {"name": "n22"},
      "layer": [
        {
          "transform": [{"filter": "indexof(datum.s, 'P') === 0"}],
          "mark": {"type": "line", "strokeWidth": 3, "clip": true, "interpolate": "monotone"},
          "encoding": {
            "x": {"field": "x", "type": "quantitative", "scale": {"domain": [0, 40], "nice": false, "zero": false},
                  "axis": {"orient": "bottom", "title": null, "values": [0, 10, 20, 30, 40], "labelPadding": 10}},
            "y": {"field": "y", "type": "quantitative", "scale": {"type": "log", "domain": [1e-9, 1e-4], "nice": false},
                  "axis": {"orient": "left", "title": "|Nˡᵐ|", "titleFontSize": 30, "titleFontStyle": "italic", "titlePadding": 5,
                           "values": [1e-9,2e-9,3e-9,4e-9,5e-9,6e-9,7e-9,8e-9,9e-9,1e-8,2e-8,3e-8,4e-8,5e-8,6e-8,7e-8,8e-8,9e-8,1e-7,2e-7,3e-7,4e-7,5e-7,6e-7,7e-7,8e-7,9e-7,1e-6,2e-6,3e-6,4e-6,5e-6,6e-6,7e-6,8e-6,9e-6,1e-5,2e-5,3e-5,4e-5,5e-5,6e-5,7e-5,8e-5,9e-5,1e-4],
                           "tickDash": {"condition": {"test": "abs(log(datum.value)/LN10 - round(log(datum.value)/LN10)) < 0.001", "value": [13, 0]}, "value": [0, 6, 7, 0]},
                           "labelPadding": 33,
                           "labelExpr": "abs(log(datum.value)/LN10 - round(log(datum.value)/LN10)) < 0.001 ? '10' : ''"}},
            "color": {"field": "s", "type": "nominal",
                      "scale": {"domain": ["P0","P1","P2","P3","P4","P5","S0","S1","S2"], "range": ["#8c8c8c","#777777","#636363","#4a4a4a","#333333","#080808","#ee1010","#bdbd10","#1010e6"]},
                      "legend": null}
          }
        },
        {
          "transform": [{"filter": "indexof(datum.s, 'S') === 0"}],
          "mark": {"type": "line", "strokeWidth": 3, "clip": true, "interpolate": "monotone"},
          "encoding": {
            "x": {"field": "x", "type": "quantitative", "scale": {"domain": [0, 40], "nice": false, "zero": false},
                  "axis": {"orient": "top", "title": null, "values": [0, 10, 20, 30, 40], "labels": false}},
            "y": {"field": "y", "type": "quantitative", "scale": {"type": "log", "domain": [1e-9, 1e-4], "nice": false},
                  "axis": {"orient": "right", "title": null, "labels": false,
                           "values": [1e-9,2e-9,3e-9,4e-9,5e-9,6e-9,7e-9,8e-9,9e-9,1e-8,2e-8,3e-8,4e-8,5e-8,6e-8,7e-8,8e-8,9e-8,1e-7,2e-7,3e-7,4e-7,5e-7,6e-7,7e-7,8e-7,9e-7,1e-6,2e-6,3e-6,4e-6,5e-6,6e-6,7e-6,8e-6,9e-6,1e-5,2e-5,3e-5,4e-5,5e-5,6e-5,7e-5,8e-5,9e-5,1e-4],
                           "tickDash": {"condition": {"test": "abs(log(datum.value)/LN10 - round(log(datum.value)/LN10)) < 0.001", "value": [13, 0]}, "value": [0, 6, 7, 0]}}},
            "color": {"field": "s", "type": "nominal",
                      "scale": {"domain": ["P0","P1","P2","P3","P4","P5","S0","S1","S2"], "range": ["#8c8c8c","#777777","#636363","#4a4a4a","#333333","#080808","#ee1010","#bdbd10","#1010e6"]},
                      "legend": null}
          }
        },
        {
          "transform": [{"filter": "datum.s === 'P0'"}],
          "mark": {"type": "point", "opacity": 0},
          "encoding": {
            "x": {"field": "x", "type": "quantitative", "scale": {"domain": [0, 40], "nice": false, "zero": false}, "axis": null},
            "y": {"field": "y", "type": "quantitative", "scale": {"type": "log", "domain": [1e-9, 1e-4], "nice": false},
                  "axis": {"orient": "left", "title": null, "offset": 0, "ticks": false, "tickSize": 0,
                           "values": [1e-9, 1e-8, 1e-7, 1e-6, 1e-5, 1e-4],
                           "labelAlign": "left", "labelPadding": 32, "labelOffset": -8, "labelFont": "DejaVu Serif", "labelFontSize": 15,
                           "labelExpr": "'−' + (-round(log(datum.value)/LN10))"}}
          }
        }
      ],
      "resolve": {"axis": {"x": "independent", "y": "independent"}}
    },
    {
      "width": 350, "height": 377,
      "title": {"text": "(2,0)", "offset": 2},
      "data": {"name": "n20"},
      "layer": [
        {
          "transform": [{"filter": "indexof(datum.s, 'P') === 0"}],
          "mark": {"type": "line", "strokeWidth": 3, "clip": true, "interpolate": "monotone"},
          "encoding": {
            "x": {"field": "x", "type": "quantitative", "scale": {"domain": [0, 40], "nice": false, "zero": false},
                  "axis": {"orient": "bottom", "title": null, "values": [0, 10, 20, 30, 40], "labelPadding": 10}},
            "y": {"field": "y", "type": "quantitative", "scale": {"type": "log", "domain": [1e-9, 1e-4], "nice": false},
                  "axis": {"orient": "left", "title": null, "labels": false,
                           "values": [1e-9,2e-9,3e-9,4e-9,5e-9,6e-9,7e-9,8e-9,9e-9,1e-8,2e-8,3e-8,4e-8,5e-8,6e-8,7e-8,8e-8,9e-8,1e-7,2e-7,3e-7,4e-7,5e-7,6e-7,7e-7,8e-7,9e-7,1e-6,2e-6,3e-6,4e-6,5e-6,6e-6,7e-6,8e-6,9e-6,1e-5,2e-5,3e-5,4e-5,5e-5,6e-5,7e-5,8e-5,9e-5,1e-4],
                           "tickDash": {"condition": {"test": "abs(log(datum.value)/LN10 - round(log(datum.value)/LN10)) < 0.001", "value": [13, 0]}, "value": [0, 6, 7, 0]}}},
            "color": {"field": "s", "type": "nominal",
                      "scale": {"domain": ["P0","P1","P2","P3","P4","P5","S0","S1","S2"], "range": ["#8c8c8c","#777777","#636363","#4a4a4a","#333333","#080808","#ee1010","#bdbd10","#1010e6"]},
                      "legend": {"title": null, "orient": "bottom-right", "offset": 10, "fillColor": "white", "strokeColor": "#9a9a9a", "padding": 8, "cornerRadius": 0,
                                 "symbolType": "stroke", "symbolSize": 729, "symbolStrokeWidth": 3, "labelFont": "Liberation Serif", "labelFontSize": 21, "labelColor": "black", "labelOffset": 17, "rowPadding": 0}}
          }
        },
        {
          "transform": [{"filter": "indexof(datum.s, 'S') === 0"}],
          "mark": {"type": "line", "strokeWidth": 3, "clip": true, "interpolate": "monotone"},
          "encoding": {
            "x": {"field": "x", "type": "quantitative", "scale": {"domain": [0, 40], "nice": false, "zero": false},
                  "axis": {"orient": "top", "title": null, "values": [0, 10, 20, 30, 40], "labels": false}},
            "y": {"field": "y", "type": "quantitative", "scale": {"type": "log", "domain": [1e-9, 1e-4], "nice": false},
                  "axis": {"orient": "right", "title": null, "labels": false,
                           "values": [1e-9,2e-9,3e-9,4e-9,5e-9,6e-9,7e-9,8e-9,9e-9,1e-8,2e-8,3e-8,4e-8,5e-8,6e-8,7e-8,8e-8,9e-8,1e-7,2e-7,3e-7,4e-7,5e-7,6e-7,7e-7,8e-7,9e-7,1e-6,2e-6,3e-6,4e-6,5e-6,6e-6,7e-6,8e-6,9e-6,1e-5,2e-5,3e-5,4e-5,5e-5,6e-5,7e-5,8e-5,9e-5,1e-4],
                           "tickDash": {"condition": {"test": "abs(log(datum.value)/LN10 - round(log(datum.value)/LN10)) < 0.001", "value": [13, 0]}, "value": [0, 6, 7, 0]}}},
            "color": {"field": "s", "type": "nominal",
                      "scale": {"domain": ["P0","P1","P2","P3","P4","P5","S0","S1","S2"], "range": ["#8c8c8c","#777777","#636363","#4a4a4a","#333333","#080808","#ee1010","#bdbd10","#1010e6"]},
                      "legend": {"title": null, "orient": "bottom-right", "offset": 10, "fillColor": "white", "strokeColor": "#9a9a9a", "padding": 8, "cornerRadius": 0,
                                 "symbolType": "stroke", "symbolSize": 729, "symbolStrokeWidth": 3, "labelFont": "Liberation Serif", "labelFontSize": 21, "labelColor": "black", "labelOffset": 17, "rowPadding": 0}}
          }
        }
      ],
      "resolve": {"axis": {"x": "independent", "y": "independent"}}
    }
  ],
  "resolve": {"scale": {"color": "independent"}}
}
